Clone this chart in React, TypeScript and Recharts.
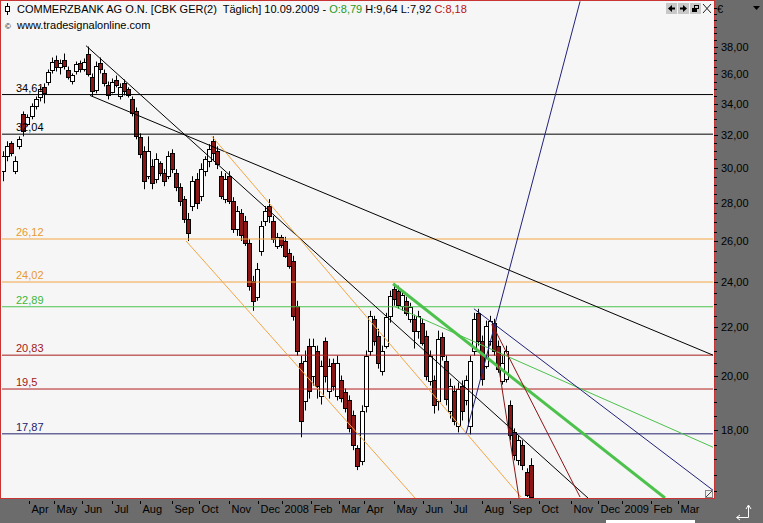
import React from 'react';
import { ComposedChart, Bar, XAxis, YAxis, ReferenceLine } from 'recharts';

// candle every 3 trading days (EUR)
const opens = [
  29.81, 30.69, 31.48, 29.81, 31.29, 33.30, 32.66, 33.17, 33.82, 34.41,
  35.10, 35.50, 36.34, 37.05, 36.48, 37.05, 36.34, 35.50, 36.20, 36.77,
  36.41, 37.49, 35.78, 34.96, 36.77, 36.06, 35.23, 34.82, 35.64, 34.48,
  35.37, 34.96, 34.28, 33.49, 31.84, 30.99, 29.52, 30.10, 29.35, 30.27,
  29.70, 29.52, 30.87, 29.70, 28.89, 28.23, 27.16, 27.85, 29.35, 28.40,
  29.81, 30.39, 31.60, 30.99, 29.52, 28.23, 29.52, 28.12, 26.63, 27.48,
  27.05, 25.92, 24.08, 23.34, 25.52, 27.05, 27.85, 27.05, 25.77, 26.23,
  26.02, 25.42, 25.03, 22.94, 20.53, 19.07, 21.22, 20.02, 21.02, 19.26,
  21.43, 19.44, 20.53, 19.26, 19.83, 19.37, 19.07, 18.52, 17.38, 16.97,
  18.89, 21.02, 22.36, 21.64, 20.21, 21.22, 22.49, 23.71, 23.62, 22.94,
  23.16, 22.36, 22.36, 21.85, 22.19, 21.64, 19.83, 19.83, 19.07, 21.60,
  20.61, 18.70, 19.44, 18.17, 19.63, 19.07, 18.17, 21.02, 22.62, 21.43,
  20.41, 21.43, 22.19, 21.22, 19.83, 19.90, 18.89, 17.92, 16.97, 17.48,
  16.58, 16.81,
];
const closes = [
  30.69, 31.29, 30.87, 30.39, 31.72, 32.21, 33.11, 33.82, 34.28, 34.96,
  34.69, 36.20, 36.91, 36.55, 36.77, 36.62, 35.85, 35.92, 36.70, 36.34,
  36.91, 36.06, 34.82, 36.62, 36.34, 35.37, 34.55, 35.50, 35.30, 35.10,
  34.82, 34.55, 33.36, 31.90, 30.81, 29.23, 30.99, 29.12, 30.51, 29.70,
  29.23, 30.69, 29.93, 28.89, 28.12, 27.16, 26.43, 29.23, 28.01, 29.93,
  30.51, 31.11, 30.87, 30.21, 28.40, 29.35, 28.12, 26.63, 27.58, 26.33,
  25.92, 23.85, 23.16, 24.65, 26.79, 27.58, 27.32, 26.12, 26.23, 25.82,
  25.28, 24.79, 22.49, 21.02, 18.34, 20.61, 19.44, 21.22, 19.63, 20.41,
  20.02, 20.41, 19.63, 20.53, 19.14, 18.78, 18.06, 17.48, 16.78, 18.70,
  20.81, 22.49, 21.43, 20.53, 21.02, 22.45, 23.39, 23.25, 22.98, 23.43,
  22.62, 22.89, 21.85, 22.49, 21.35, 20.02, 20.81, 18.89, 21.51, 20.81,
  19.14, 19.63, 18.34, 19.52, 18.70, 19.83, 20.61, 22.36, 21.43, 19.90,
  22.06, 22.28, 21.02, 20.29, 20.53, 21.02, 17.82, 17.14, 17.65, 16.81,
  15.86, 15.78,
];
const highs = [
  30.99, 31.60, 31.60, 30.69, 31.90, 33.49, 33.30, 34.02, 34.48, 35.16,
  35.37, 36.34, 37.20, 37.34, 37.05, 37.49, 36.55, 36.06, 36.91, 36.98,
  37.13, 38.00, 36.06, 36.91, 37.20, 36.34, 35.50, 35.71, 35.92, 35.37,
  35.64, 35.10, 34.48, 33.75, 32.09, 31.29, 31.90, 30.51, 30.87, 30.39,
  29.93, 30.99, 31.11, 29.93, 29.12, 28.40, 27.48, 29.52, 29.70, 30.27,
  30.69, 31.42, 31.90, 31.29, 29.81, 29.70, 29.81, 28.34, 27.85, 27.69,
  27.32, 26.12, 24.31, 24.93, 27.05, 27.85, 28.23, 27.32, 26.43, 26.33,
  26.23, 25.62, 25.28, 23.16, 20.81, 21.02, 21.51, 21.51, 21.22, 20.61,
  21.56, 20.69, 20.69, 20.81, 20.02, 19.52, 19.26, 18.70, 17.48, 18.89,
  21.02, 22.71, 22.49, 21.93, 21.22, 22.62, 23.62, 23.94, 23.85, 23.62,
  23.34, 23.07, 22.54, 22.71, 22.36, 21.85, 21.02, 20.02, 21.85, 21.77,
  20.81, 19.90, 19.63, 19.75, 19.83, 20.02, 20.81, 22.62, 22.80, 21.64,
  22.28, 22.49, 22.36, 21.43, 20.81, 21.22, 19.07, 18.06, 17.82, 17.65,
  16.71, 17.04,
];
const lows = [
  29.23, 30.39, 30.69, 29.64, 31.11, 31.90, 32.53, 32.98, 33.62, 34.15,
  34.02, 35.23, 36.06, 36.20, 35.99, 36.34, 35.64, 35.30, 35.99, 36.13,
  36.20, 35.85, 34.48, 34.69, 36.06, 35.16, 34.28, 34.69, 35.10, 34.28,
  34.55, 34.41, 33.17, 31.72, 30.57, 28.78, 29.35, 28.78, 29.12, 29.52,
  28.95, 29.35, 29.70, 28.67, 27.85, 26.95, 26.02, 27.58, 27.69, 28.12,
  29.52, 30.04, 30.39, 29.93, 28.23, 28.01, 27.96, 26.43, 26.28, 26.02,
  25.77, 23.62, 22.71, 23.16, 25.28, 26.79, 26.95, 25.92, 25.62, 25.67,
  25.18, 24.65, 22.28, 20.81, 17.75, 18.70, 19.14, 19.63, 19.14, 18.92,
  19.75, 19.14, 19.44, 19.07, 19.00, 18.63, 17.92, 17.31, 16.65, 16.81,
  18.63, 20.81, 21.22, 20.29, 20.02, 21.10, 22.19, 22.94, 22.80, 22.71,
  22.49, 22.19, 21.10, 21.51, 21.22, 19.83, 19.63, 18.59, 18.70, 20.61,
  18.89, 18.41, 18.17, 17.92, 18.34, 18.89, 17.85, 20.81, 21.22, 19.63,
  20.29, 21.22, 20.81, 20.13, 19.67, 19.75, 17.65, 16.97, 16.81, 16.65,
  15.80, 15.72,
];

// x axis: trading-day index, month starts
const monthTicks = [20, 39, 60, 82, 103, 127, 147, 169, 191, 209, 230, 251, 270, 292, 314, 335, 358, 379, 400, 424, 444, 462, 484, 504];
const monthLabels = ['Apr', 'May', 'Jun', 'Jul', 'Aug', 'Sep', 'Oct', 'Nov', 'Dec', '2008', 'Feb', 'Mar', 'Apr', 'May', 'Jun', 'Jul', 'Aug', 'Sep', 'Oct', 'Nov', 'Dec', '2009', 'Feb', 'Mar'];
const priceLabels = [18, 20, 22, 24, 26, 28, 30, 32, 34, 36, 38];

// horizontal support / resistance levels
const levelValues = [34.61, 32.04, 26.12, 24.02, 22.89, 20.83, 19.5, 17.87];
const levelLabels = ['34,61', '32,04', '26,12', '24,02', '22,89', '20,83', '19,5', '17,87'];
const levelColors = ['#000000', '#000000', '#f2a545', '#f2a545', '#4cc24c', '#a81c1c', '#b01c1c', '#22226e'];
const levelTextColors = ['#000000', '#000000', '#e89a30', '#e89a30', '#3cb83c', '#a01818', '#a01818', '#22226e'];

// trend lines [day, price]
const trendStarts = [[62.6, 38.07], [65.6, 34.55], [156.5, 31.9], [137.2, 26.02], [291.5, 23.94], [293, 22.89], [345.9, 17.87], [351.8, 22.8], [365.3, 22.13], [365.3, 22.13]];
const trendEnds = [[436.8, 15.77], [530, 20.83], [386.9, 15.8], [307.9, 15.77], [494.2, 15.77], [530, 17.41], [430.9, 41.5], [530, 16.01], [430.9, 15.8], [385.4, 15.77]];
const trendColors = ['#000000', '#000000', '#f2a545', '#f2a545', '#4cc24c', '#4cc24c', '#22227a', '#22227a', '#8c1414', '#8c1414'];
const trendWidths = [1, 1, 1, 1, 3, 1, 1, 1, 1, 1];

const FONT = "'Liberation Sans', Arial, sans-serif";

const candles = opens.map((open, i) => ({
  day: 1 + i * 3,
  open,
  close: closes[i],
  high: highs[i],
  low: lows[i],
}));

const Candle = (props: any) => {
  const { x, y, width, height, payload } = props;
  if (x == null || !payload) return null;
  const top = Math.min(y, y + height);
  const h = Math.abs(height);
  const lh = Math.log(payload.high);
  const ll = Math.log(payload.low);
  const toY = (v: number) => top + (h * (lh - Math.log(v))) / (lh - ll || 1);
  const cx = Math.round(x + width / 2);
  const yo = toY(payload.open);
  const yc = toY(payload.close);
  const up = payload.close >= payload.open;
  const bt = Math.round(Math.min(yo, yc)) + 0.5;
  const bh = Math.max(1, Math.round(Math.abs(yc - yo)));
  return (
    <g>
      <line x1={cx + 0.5} x2={cx + 0.5} y1={top} y2={top + h} stroke="#000" strokeWidth={1} />
      <rect x={cx - 1.5} y={bt} width={4} height={bh} fill={up ? '#ffffff' : '#8a1616'} stroke="#000" strokeWidth={1} />
    </g>
  );
};

const MonthTick = (props: any) => {
  const { x, y, payload } = props;
  const idx = monthTicks.indexOf(payload.value);
  const px = Math.round(x) + 0.5;
  return (
    <g>
      <line x1={px} x2={px} y1={y + 3} y2={y + 6} stroke="#000" />
      <text x={px + 2} y={y + 15} fontSize={11} fontFamily={FONT} fill="#000">
        {monthLabels[idx]}
      </text>
    </g>
  );
};

const PriceTick = (props: any) => {
  const { x, y, payload } = props;
  const v = payload.value;
  const major = priceLabels.includes(v);
  const py = Math.round(y) + 0.5;
  return (
    <g>
      <line x1={x + 1} x2={x + (major ? 5 : 4)} y1={py} y2={py} stroke="#000" />
      {major && (
        <text x={x + 8} y={y + 4} fontSize={11} fontFamily={FONT} fill="#000">
          {v.toFixed(2).replace('.', ',')}
        </text>
      )}
    </g>
  );
};

const priceTicks: number[] = [];
for (let v = 16; v <= 41; v += 0.5) priceTicks.push(v);

const LevelLabel = (props: any) => {
  const { viewBox, text, color } = props;
  if (!viewBox) return null;
  return (
    <text x={16} y={viewBox.y - 3} fontSize={11} fontFamily={FONT} fill={color}>
      {text}
    </text>
  );
};

const Decor = () => (
  <svg width={763} height={523} style={{ position: 'absolute', left: 0, top: 0, pointerEvents: 'none' }}>
    {/* candle icon in header */}
    <line x1={7.5} x2={7.5} y1={3} y2={15} stroke="#000" />
    <rect x={5.5} y={6.5} width={4} height={5} fill="#fff" stroke="#000" />
    {/* window buttons */}
    <rect x={666} y={3} width={11} height={11} fill="#c8c8c8" />
    <path d="M668 8.5 L672 5 L672 12 Z M672 7.5 h3 v2 h-3 Z" fill="#000" />
    <rect x={678} y={3} width={11} height={11} fill="#c8c8c8" />
    <path d="M687 8.5 L683 5 L683 12 Z M680 7.5 h3 v2 h-3 Z" fill="#000" />
    <rect x={690} y={3} width={11} height={11} fill="#c8c8c8" />
    <rect x={694.5} y={5.5} width={4} height={3} fill="none" stroke="#000" />
    <rect x={692.5} y={8.5} width={4} height={3} fill="#000" stroke="#000" />
    <path d="M703 4 L711 13 M711 4 L703 13" stroke="#222" />
    <text x={717} y={13} fontSize={11} fontFamily={FONT} fill="#000">€</text>
    <path d="M753 6 L760 6 L756.5 10 Z" fill="#000" />
    {/* resize corner */}
    <rect x={705.5} y={490.5} width={7} height={7} fill="#f0f0f0" stroke="#888" />
    <path d="M706 497 L712 491" stroke="#444" />
    {/* bottom right arrow */}
    <path d="M748.5 506 L748.5 517.5 L737 517.5" stroke="#fff" fill="none" />
    <path d="M746 509 L748.5 505 L751 509 M740 515 L736.5 517.5 L740 520" stroke="#fff" fill="none" />
    <rect x={606} y={520} width={89} height={3} fill="#ffffff" />
  </svg>
);

export default function App() {
  return (
    <div style={{ position: 'absolute', left: 0, top: 0, width: 763, height: 523, background: '#6c6c6c', overflow: 'hidden' }}>
      <div
        style={{
          position: 'absolute', left: 0, top: 0, width: 715, height: 499, boxSizing: 'border-box',
          background: '#f6f6f6', border: '1px solid #c83434',
        }}
      />
      <div style={{ position: 'absolute', left: 0, top: 0 }}>
        <ComposedChart width={763} height={523} data={candles} margin={{ top: 1, right: 0, bottom: 0, left: 2 }}>
          <XAxis
            dataKey="day"
            type="number"
            domain={[0, 530]}
            allowDataOverflow
            ticks={monthTicks}
            interval={0}
            height={25}
            tickSize={0}
            tickMargin={0}
            axisLine={false}
            tickLine={false}
            tick={<MonthTick />}
          />
          <YAxis
            orientation="right"
            scale="log"
            domain={[15.77, 41.53]}
            allowDataOverflow
            ticks={priceTicks}
            interval={0}
            width={50}
            tickSize={0}
            tickMargin={0}
            axisLine={false}
            tickLine={false}
            tick={<PriceTick />}
          />
          {levelValues.map((v, i) => (
            <ReferenceLine
              key={'lvl' + i}
              y={v}
              stroke={levelColors[i]}
              strokeWidth={1}
              ifOverflow="hidden"
              label={<LevelLabel text={levelLabels[i]} color={levelTextColors[i]} />}
            />
          ))}
          {trendStarts.map((s, i) => (
            <ReferenceLine
              key={'tr' + i}
              segment={[{ x: s[0], y: s[1] }, { x: trendEnds[i][0], y: trendEnds[i][1] }]}
              stroke={trendColors[i]}
              strokeWidth={trendWidths[i]}
              ifOverflow="hidden"
            />
          ))}
          <Bar
            dataKey={(d: any) => [d.low, d.high]}
            barSize={4}
            shape={<Candle />}
            isAnimationActive={false}
          />
        </ComposedChart>
      </div>
      <div style={{ position: 'absolute', left: 17, top: 3, fontFamily: FONT, fontSize: 11, lineHeight: '13px', whiteSpace: 'pre', color: '#000' }}>
        {'COMMERZBANK AG O.N. [CBK GER(2)  Täglich] 10.09.2009 - '}
        <span style={{ color: '#1f9a1f' }}>O:8,79</span>
        {' H:9,64 L:7,92 '}
        <span style={{ color: '#b81010' }}>C:8,18</span>
      </div>
      <div style={{ position: 'absolute', left: 5, top: 19, fontFamily: FONT, fontSize: 11, lineHeight: '13px', whiteSpace: 'pre', color: '#000' }}>
        <span style={{ fontSize: 8 }}>©</span>
        {'  www.tradesignalonline.com'}
      </div>
      <Decor />
    </div>
  );
}
